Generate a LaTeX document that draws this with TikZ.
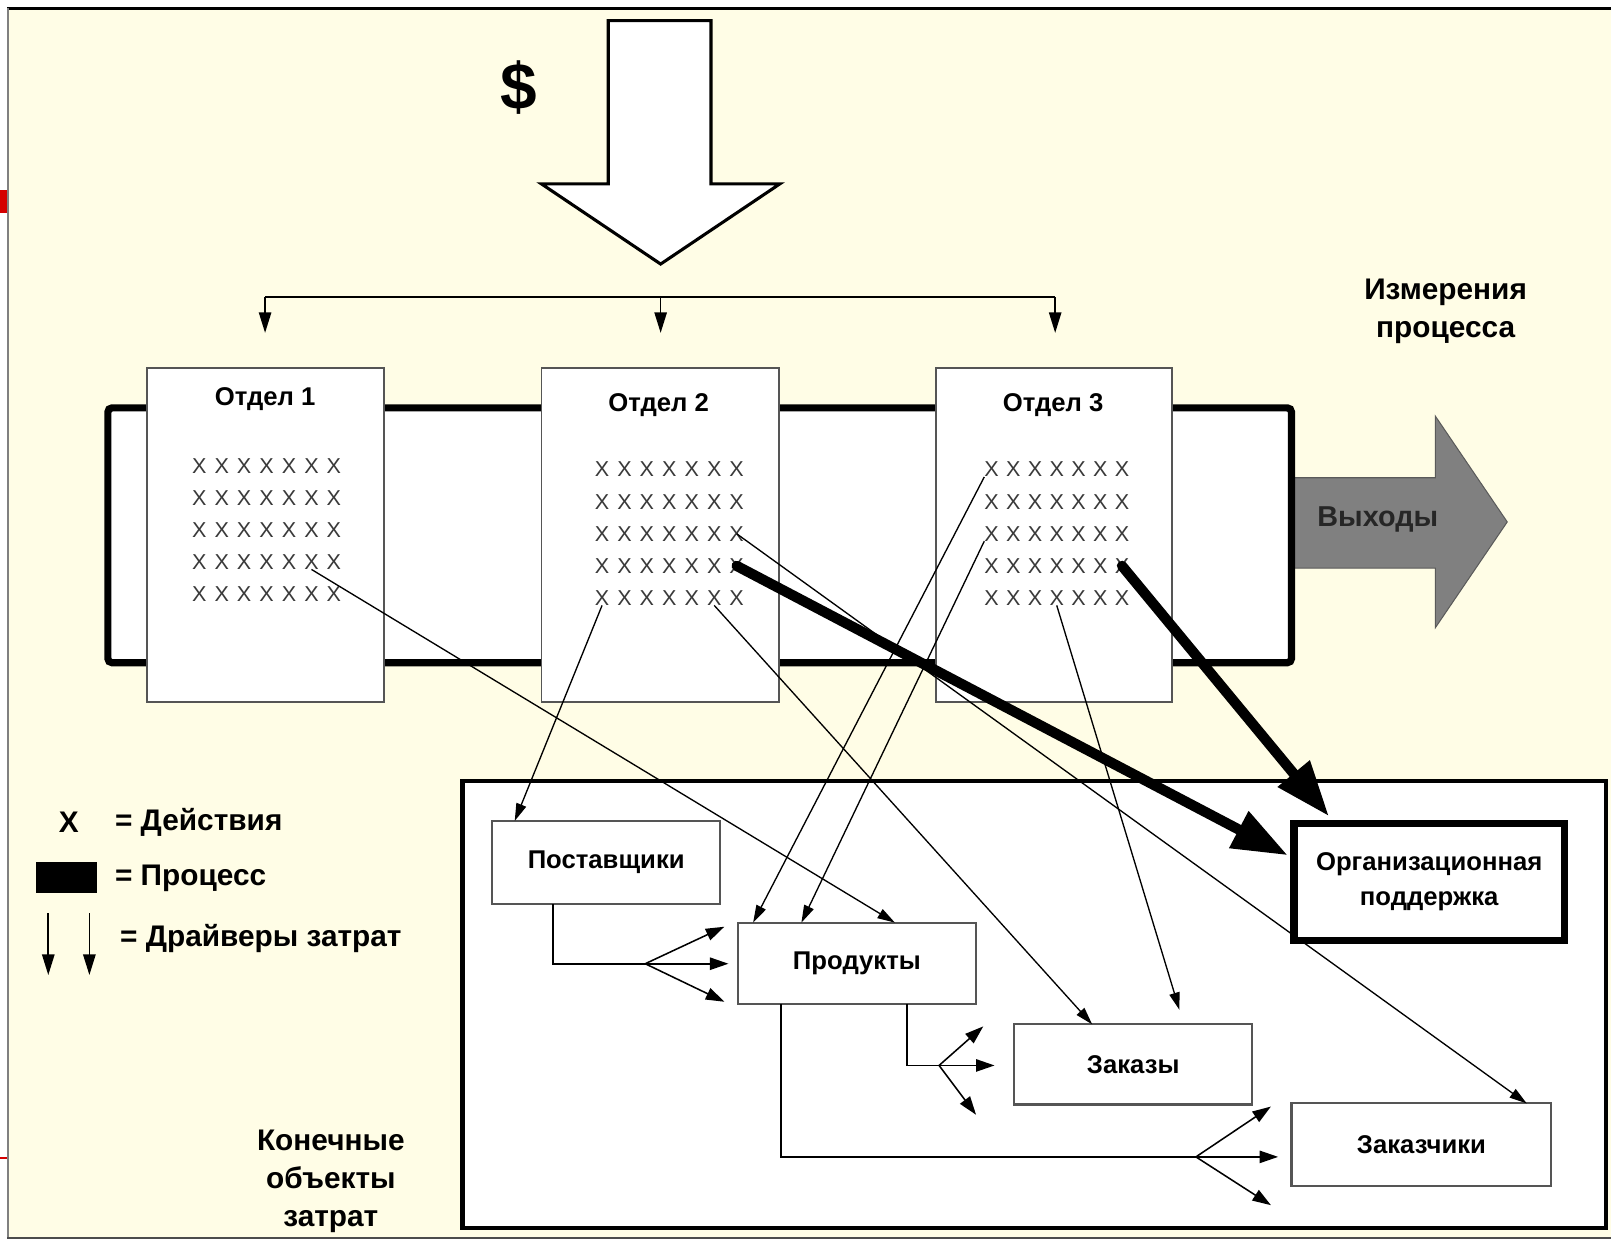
\documentclass[tikz,border=0pt]{standalone}
\usepackage{fontspec}
\setmainfont{Liberation Sans}
\usetikzlibrary{arrows.meta,calc}
\definecolor{cream}{HTML}{FFFDE6}
\definecolor{boxgray}{HTML}{555555}
\definecolor{outgray}{HTML}{808080}
\definecolor{xgray}{HTML}{3A3A3A}
\definecolor{redmark}{HTML}{D40000}
\begin{document}
\begin{tikzpicture}[x=0.5pt,y=-0.5pt,
  every node/.style={inner sep=0pt, outer sep=0pt},
  lbl/.style={font=\bfseries\fontsize{12.5}{17}\selectfont},
  bigtxt/.style={font=\bfseries\fontsize{14.5}{18.5}\selectfont, align=center},
  xmark/.style={font=\fontsize{10.5}{12}\selectfont, text=xgray},
  deptbox/.style={draw=boxgray, line width=0.8pt, fill=white, minimum width=115.5pt, minimum height=162.5pt},
  objbox/.style={draw=boxgray, line width=1pt, fill=white},
  drv/.style={line width=0.65pt, -{Triangle[length=8.5pt,width=5pt]}},
  fan/.style={line width=0.75pt, -{Triangle[length=9pt,width=6pt]}},
  dist/.style={line width=0.8pt, -{Triangle[length=10pt,width=6pt]}},
  heavy/.style={line width=5pt, line cap=round, -{Triangle[length=27pt,width=19pt]}},
]
\useasboundingbox (0,0) rectangle (1568,1209);
% page and frame
\fill[white] (0,0) rectangle (1568,1209);
\fill[cream] (7,8) rectangle (1568,1205);
\draw[black, line width=1.5pt] (7,8.5) -- (1568,8.5);
\draw[gray, line width=1pt] (7.5,8) -- (7.5,1205);
\draw[black!70, line width=1.2pt] (7,1205) -- (1568,1205);
\fill[redmark] (0,185) rectangle (6.5,207);
\draw[redmark, line width=0.6pt] (0,1127) -- (7,1127);

% money arrow
\node[font=\bfseries\fontsize{32}{32}\selectfont] (dollar) at (505,85) {\$};
\draw[fill=white, line width=1.5pt, line join=miter] (592,20) -- (692,20) -- (692,179) -- (759,179) -- (643,257) -- (527,179) -- (592,179) -- cycle;

% distribution to departments
\coordinate (dl) at (258,289);
\coordinate (dm) at (643,289);
\coordinate (dr) at (1027,289);
\coordinate (tl) at (258,324);
\coordinate (tm) at (643,324);
\coordinate (tr) at (1027,324);
\draw[line width=0.8pt] (dl) -- (dr);
\draw[dist] (dl) -- (tl);
\draw[dist] (dm) -- (tm);
\draw[dist] (dr) -- (tr);

% outputs arrow
\draw[draw=outgray!70!black, line width=0.5pt, fill=outgray] (1250,465) -- (1397,465) -- (1397,405) -- (1467,508) -- (1397,611) -- (1397,553) -- (1250,553) -- cycle;
\node[font=\bfseries\fontsize{14}{16}\selectfont, text=black!85] (outl) at (1341,506) {Выходы};

% process band
\draw[line width=3.5pt, rounded corners=2pt, fill=white] (105,397) rectangle (1257,645);

% departments
\node[deptbox] (d1) at (258.5,520.5) {};
\node[deptbox] (d2) at (642.5,520.5) {};
\node[deptbox, minimum width=115pt] (d3) at (1026,520.5) {};
\node[lbl] (d1t) at (258,388) {Отдел 1};
\node[lbl] (d2t) at (641,394) {Отдел 2};
\node[lbl] (d3t) at (1025,394) {Отдел 3};

\foreach \r in {1,...,5} \foreach \c in {1,...,7} {
  \node[xmark] (a-\r-\c) at ({194+(\c-1)*21.83},{454+(\r-1)*31}) {X};
  \node[xmark] (b-\r-\c) at ({586+(\c-1)*21.83},{457+(\r-1)*31.25}) {X};
  \node[xmark] (c-\r-\c) at ({965+(\c-1)*21.17},{457+(\r-1)*31.25}) {X};
}

\node[bigtxt] (meas) at (1407,303) {Измерения\\процесса};

% cost objects
\node[draw=black, line width=2.2pt, fill=white, minimum width=556.5pt, minimum height=217.5pt] (cost) at (1006.5,977.5) {};
\node[objbox, lbl, minimum width=111pt, minimum height=40.5pt] (sup) at (590,839.5) {Поставщики};
\node[objbox, lbl, minimum width=116pt, minimum height=39.5pt] (prod) at (834,937.5) {Продукты};
\node[objbox, lbl, minimum width=116pt, minimum height=39pt] (ord) at (1103,1036) {Заказы};
\node[objbox, lbl, minimum width=126.5pt, minimum height=40pt] (cust) at (1383.5,1114) {Заказчики};
\node[draw=black, line width=3.5pt, fill=white, lbl, align=center, minimum width=131.5pt, minimum height=57pt] (org) at (1391,858.5) {Организационная\\поддержка};

% fans
\coordinate (f1) at (628,938);
\coordinate (f1a) at (705,902);
\coordinate (f1b) at (709,938);
\coordinate (f1c) at (705,975);
\draw[line width=0.75pt] ($(sup.south west)+(59,0)$) |- (f1);
\draw[fan] (f1) -- (f1a);
\draw[fan] (f1) -- (f1b);
\draw[fan] (f1) -- (f1c);

\coordinate (f2) at (914,1037);
\coordinate (f2a) at (957,999);
\coordinate (f2b) at (968,1037);
\coordinate (f2c) at (950,1085);
\draw[line width=0.75pt] ($(prod.south west)+(165,0)$) |- (f2);
\draw[fan] (f2) -- (f2a);
\draw[fan] (f2) -- (f2b);
\draw[fan] (f2) -- (f2c);

\coordinate (f3) at (1164,1126);
\coordinate (f3a) at (1237,1077);
\coordinate (f3b) at (1244,1126);
\coordinate (f3c) at (1237,1173);
\draw[line width=0.75pt] ($(prod.south west)+(42,0)$) |- (f3);
\draw[fan] (f3) -- (f3a);
\draw[fan] (f3) -- (f3b);
\draw[fan] (f3) -- (f3c);

% cost drivers
\draw[drv] (a-4-6.south) -- ($(prod.north west)+(153,0)$);
\draw[drv] (b-5-1.south) -- ($(sup.north west)+(22,0)$);
\draw[drv] (b-5-6.south) -- ($(ord.north west)+(76,0)$);
\draw[drv] (b-3-7.center) -- ($(cust.north west)+(229,0)$);
\draw[drv] (c-1-1.south west) -- ($(prod.north west)+(15,0)$);
\draw[drv] (c-3-1.south west) -- ($(prod.north west)+(62,0)$);
\draw[drv] (c-5-4.south) -- ($(ord.north west)+(161,-14)$);

% main process drivers
\draw[heavy] (b-4-7.center) -- ($(org.north west)+(-6,31)$);
\draw[heavy] (c-4-7.center) -- ($(org.north west)+(34,-7)$);

% legend
\node[bigtxt] (lx) at (67,800) {X};
\node[bigtxt, anchor=west] (l1) at (112,800) {= Действия};
\node[fill=black, minimum width=29.5pt, minimum height=15pt] (lp) at (64.5,854) {};
\node[bigtxt, anchor=west] (l2) at (112,855) {= Процесс};
\coordinate (la1) at (47,889);
\coordinate (la1e) at (47,949);
\coordinate (la2) at (87,889);
\coordinate (la2e) at (87,949);
\draw[dist] (la1) -- (la1e);
\draw[dist] (la2) -- (la2e);
\node[bigtxt, anchor=west] (l3) at (117,913) {= Драйверы затрат};

\node[bigtxt] (final) at (322,1150) {Конечные\\объекты\\затрат};
\end{tikzpicture}
\end{document}
